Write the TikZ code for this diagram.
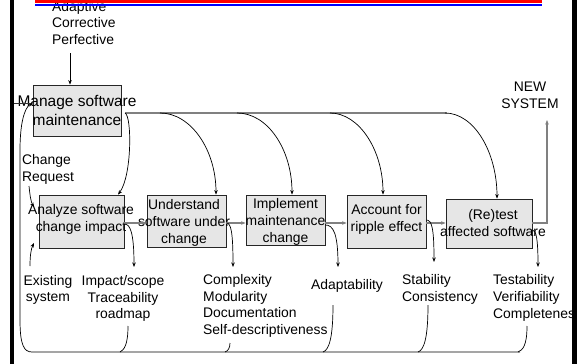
\documentclass[tikz,border=0pt]{standalone}
\usepackage{fontspec}
\setmainfont{Liberation Sans}
\usetikzlibrary{arrows.meta,calc}
\definecolor{boxfill}{HTML}{E6E6E6}
\definecolor{busgray}{HTML}{808080}
\definecolor{topred}{HTML}{FF0000}
\definecolor{topblue}{HTML}{0000FF}
\begin{document}
\begin{tikzpicture}[x=1pt,y=-1pt,
  procbox/.style={draw=black!85,fill=boxfill,line width=0.8pt,inner sep=0pt},
  boxtext/.style={font=\fontsize{13.9}{16.6}\selectfont,align=center,inner sep=0pt},
  bigtext/.style={font=\fontsize{15.5}{19}\selectfont,align=center,inner sep=0pt},
  lbl/.style={font=\fontsize{13.9}{16.8}\selectfont,inner sep=0pt},
  bus/.style={draw=busgray,line width=1.8pt},
  tip/.style={-{Stealth[length=4.5pt,width=3.5pt]}},
  curv/.style={draw=black,line width=0.7pt},
]
\fill[white] (0,0) rectangle (584,364);
\useasboundingbox (0,0) rectangle (584,364);

% boxes
\node[procbox,minimum width=88pt,minimum height=51pt] (mng) at (77,110.5) {};
\node[procbox,minimum width=85pt,minimum height=53pt] (ana) at (81.5,221.5) {};
\node[procbox,minimum width=79pt,minimum height=52pt] (und) at (186.5,221) {};
\node[procbox,minimum width=79pt,minimum height=50pt] (imp) at (285.5,220) {};
\node[procbox,minimum width=79pt,minimum height=53pt] (acc) at (386.5,221.5) {};
\node[procbox,minimum width=86pt,minimum height=49pt] (rte) at (489,223.5) {};

% box texts
\node[bigtext] (tmng) at (77,110) {Manage software\\maintenance};
\node[boxtext] (tana) at (81,219.5) {Analyze software\\change impact};
\node[boxtext] (tund) at (184,223) {Understand\\software under\\change};
\node[boxtext] (timp) at (285.5,222) {Implement\\maintenance\\change};
\node[boxtext] (tacc) at (386.5,219.5) {Account for\\ripple effect};
\node[boxtext] (trte) at (493,223) {(Re)test\\affected software};

% labels
\node[lbl,align=left,anchor=west] (adapt) at (52,23) {Adaptive\\Corrective\\Perfective};
\node[lbl,align=center] (newsys) at (530,95) {NEW\\SYSTEM};
\node[lbl,align=left,anchor=west] (creq) at (22,169.5) {Change\\Request};
\node[lbl,align=center] (exist) at (48,290) {Existing\\system};
\node[lbl,align=center] (impact) at (123,298.5) {Impact/scope\\Traceability\\roadmap};
\node[lbl,align=left,anchor=west] (compl) at (203,306) {Complexity\\Modularity\\Documentation\\Self-descriptiveness};
\node[lbl,align=center] (adapb) at (347,285.5) {Adaptability};
\node[lbl,align=left,anchor=west] (stab) at (402,289.5) {Stability\\Consistency};
\node[lbl,align=left,anchor=west] (testab) at (493,298) {Testability\\Verifiability\\Completeness};

% coordinates for connector ends
\coordinate (adaptfoot) at (70,53);
\coordinate (busL) at (125,113);
\coordinate (busR) at (447,113);
\coordinate (bs2) at (160,113);
\coordinate (bs3) at (237,113);
\coordinate (bs4) at (330,113);
\coordinate (bs5) at (445,113);
\coordinate (turn) at (547,223);
\coordinate (newfoot) at (547,120);

% input arrow to manage
\draw[curv,tip] (adaptfoot) -- (adaptfoot |- mng.north);

% manage bus
\draw[bus] (busL) -- (busR);
\draw[curv,tip] (busL) .. controls (132,116) and (132,176) .. (ana.north east -| 118,0);
\draw[curv,tip] (bs2) .. controls (191,113) and (216,150) .. (und.north -| 216,0);
\draw[curv,tip] (bs3) .. controls (268,113) and (292,150) .. (imp.north -| 292,0);
\draw[curv,tip] (bs4) .. controls (359,113) and (383,150) .. (acc.north -| 383,0);
\draw[curv,tip] (bs5) .. controls (474,113) and (497,152) .. (rte.north -| 497,0);

% flow between boxes
\draw[bus,tip] (ana.east |- 0,223) -- (und.west |- 0,223);
\draw[bus,tip] (und.east |- 0,223) -- (imp.west |- 0,223);
\draw[bus,tip] (imp.east |- 0,223) -- (acc.west |- 0,223);
\draw[bus,tip] (acc.east |- 0,223) -- (rte.west |- 0,223);
\draw[bus,tip] (rte.east |- turn) -- (turn) -- (newfoot);

% box to metric labels
\draw[curv,tip] (ana.east |- 0,224) .. controls (130,224) and (134,232) .. (134,267);
\draw[curv,tip] (und.east |- 0,223) .. controls (231,223) and (233,232) .. (233,267);
\draw[curv,tip] (imp.east |- 0,225) .. controls (333,225) and (338,233) .. (338,267);
\draw[curv,tip] (acc.east |- 0,220) .. controls (432,220) and (434,229) .. (434,262);
\draw[curv,tip] (rte.east |- 0,230) .. controls (536,230) and (538,238) .. (538,267);

% external inputs
\draw[curv,tip] (29,186) .. controls (30,196) and (31,202) .. (34,207);
\draw[curv,tip] (30,266) .. controls (30,256) and (31,249) .. (34,243);

% feedback bus
\draw[curv] (128,326) .. controls (128,345) and (124,350) .. (120,352);
\draw[curv] (230,343) .. controls (230,348) and (228,351) .. (225,352);
\draw[curv] (333,305) .. controls (333,338) and (329,350) .. (323,352);
\draw[curv] (428,305) .. controls (428,338) and (424,350) .. (418,352);
\draw[curv] (527,326) .. controls (527,345) and (523,350) .. (518,352);
\draw[curv,tip] (520,352) -- (32,352) .. controls (24,352) and (20,345) .. (20,320)
  -- (20,150) .. controls (20,125) and (24,108) .. (mng.west |- 0,103);
\draw[line width=0.9pt,black!80] (13,103) -- (30,103);

% frame
\draw[line width=3.5pt] (12,0) -- (12,364);
\draw[line width=5pt] (574.5,0) -- (574.5,364);
\fill[white] (577,0) rectangle (584,364);
\draw[topred,line width=2.6pt] (35,1.3) -- (542,1.3);
\draw[topblue,line width=2pt] (35,5.3) -- (542,5.3);
\end{tikzpicture}
\end{document}
